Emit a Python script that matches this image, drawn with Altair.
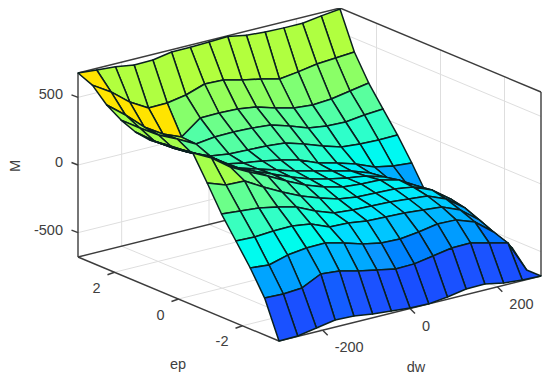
import altair as alt

W, H = 534, 366
DW_LIM, EP_LIM, M_LIM = 300.0, 3.14, 680.0
DW_TICKS = [-200, 0, 200]
EP_TICKS = [2, 0, -2]
M_TICKS = [500, 0, -500]
N = 15

# M surface, rows run from ep = -3.14 (front) to ep = 3.14 (back), columns dw = -300 .. 300
M_ROWS = [
    [-680,-677,-653,-628,-633,-652,-664,-676,-680,-664,-639,-636,-663,-675,-680],
    [-407,-411,-401,-332,-345,-378,-405,-432,-429,-405,-380,-377,-412,-446,-680],
    [-229,-241,-202,-184,-182,-216,-257,-285,-289,-272,-247,-251,-301,-409,-562],
    [ -74, -78, -69, -66, -86,-142,-146,-166,-171,-176,-188,-200,-257,-364,-517],
    [  81,  69,  57,  30,  -5, -68,-117,-129,-134,-139,-151,-163,-220,-320,-488],
    [ 266, 217, 212, 134,  62,  -2, -50, -92,-112,-117,-121,-141,-197,-298,-436],
    [ 443, 372, 271, 200, 136,  65,   1, -48, -82, -95, -99,-133,-212,-313,-414],
    [ 429, 358, 286, 185, 128,  72,  16, -33, -67, -95,-114,-155,-234,-320,-414],
    [ 421, 343, 271, 193, 106,  65,  24, -19, -53, -87,-121,-170,-249,-327,-421],
    [ 406, 328, 249, 185,  92,  65,  46,  18, -16, -73,-107,-148,-205,-231,-244],
    [ 421, 321, 234, 163, 106,  87,  83,  77,  66,  24, -25, -67, -79, -84, -81],
    [ 465, 372, 286, 222, 151, 168, 171, 166, 154, 112,  63,  44,  39,  57,  66],
    [ 532, 424, 301, 215, 158, 264, 267, 262, 243, 201, 167, 155, 165, 190, 214],
    [ 635, 550, 441, 363, 365, 390, 437, 432, 398, 371, 337, 355, 379, 389, 399],
    [ 680, 668, 658, 636, 639, 664, 665, 669, 675, 650, 640, 636, 636, 656, 673],
]
# facets whose colour value differs from their back-left vertex (row, column): the yellow band
TONE_OVERRIDES = {(13,0):700,(12,0):700,(12,1):700,(12,2):700,(12,3):700,
                  (11,0):560,(11,1):560,(11,2):560,(11,3):560,(10,0):560,(10,1):560,(10,2):560,
                  (9,0):560,(9,1):560,(9,2):560,(8,0):560,(8,1):560,(8,2):560,
                  (7,0):560,(7,1):560,(5,0):560,(5,1):560,(6,0):560,(6,1):560}
TONE_DOMAIN = [-680,-340,-310,-260,-180,-130,-60,50,150,280,400,640,690,700]
TONE_RANGE = ["#1a3cff","#1c55ff","#1070ff","#0f96ff","#00b8ff","#00e8ff","#10ffe8","#30ffc8",
              "#50ffa8","#70ff85","#90ff60","#b0ff40","#b4ff3c","#ffe400"]


def project(ep, dw, m):
    u = (dw + DW_LIM) / (2 * DW_LIM)
    v = (ep + EP_LIM) / (2 * EP_LIM)
    w = (m + M_LIM) / (2 * M_LIM)
    return (279 + 262 * u - 201 * v - 8, 341 - 65 * u - 84 * v - 184 * w - 8)


def ep_at(i):
    return -EP_LIM + 2 * EP_LIM * i / (N - 1)


def dw_at(j):
    return -DW_LIM + 2 * DW_LIM * j / (N - 1)


def seg(a, b):
    return {"x": a[0], "y": a[1], "x2": b[0], "y2": b[1]}


features = []
for i in range(N - 2, -1, -1):
    for j in range(N - 2, -1, -1):
        corners = [(i, j), (i, j + 1), (i + 1, j + 1), (i + 1, j), (i, j)]
        ring = [list(project(ep_at(a), dw_at(b), M_ROWS[a][b])) for a, b in corners]
        tone = TONE_OVERRIDES.get((i, j), M_ROWS[i + 1][j])
        features.append({"type": "Feature",
                         "geometry": {"type": "Polygon", "coordinates": [ring]},
                         "properties": {"tone": tone}})

E, D, Z = EP_LIM, DW_LIM, M_LIM
grid = []
for d in DW_TICKS:
    grid.append(seg(project(E, d, -Z), project(E, d, Z)))
    grid.append(seg(project(E, d, -Z), project(-E, d, -Z)))
for e in EP_TICKS:
    grid.append(seg(project(e, D, -Z), project(e, D, Z)))
    grid.append(seg(project(e, -D, -Z), project(e, D, -Z)))
for m in M_TICKS:
    grid.append(seg(project(E, -D, m), project(E, D, m)))
    grid.append(seg(project(E, D, m), project(-E, D, m)))

box = [
    seg(project(E, -D, -Z), project(E, -D, Z)),
    seg(project(E, -D, -Z), project(-E, -D, -Z)),
    seg(project(-E, -D, -Z), project(-E, D, -Z)),
    seg(project(E, -D, -Z), project(E, D, -Z)),
    seg(project(E, -D, Z), project(E, D, Z)),
    seg(project(E, D, Z), project(-E, D, Z)),
    seg(project(-E, D, -Z), project(-E, D, Z)),
]
for m in M_TICKS:
    p = project(E, -D, m)
    box.append(seg(p, (p[0] - 6.5, p[1] - 2.5)))
for e in EP_TICKS:
    p = project(e, -D, -Z)
    box.append(seg(p, (p[0] - 7, p[1] + 2.5)))
for d in DW_TICKS:
    p = project(-E, d, -Z)
    box.append(seg(p, (p[0] + 5, p[1] + 5)))

right_labels = []
left_labels = []
for m in M_TICKS:
    p = project(E, -D, m)
    right_labels.append({"x": p[0] - 15, "y": p[1] - 2, "t": str(m)})
for e in EP_TICKS:
    p = project(e, -D, -Z)
    right_labels.append({"x": p[0] - 14, "y": p[1] + 16.5, "t": str(e)})
for d in DW_TICKS:
    p = project(-E, d, -Z)
    left_labels.append({"x": p[0] + 12, "y": p[1] + 18, "t": str(d)})
titles = [{"x": 170, "y": 357, "t": "ep"}, {"x": 408, "y": 360, "t": "dw"}]

FONT = "Liberation Sans"
TXT = "#404040"
X = alt.X("x:Q", scale=alt.Scale(domain=[0, W]), axis=None)
Y = alt.Y("y:Q", scale=alt.Scale(domain=[0, H], reverse=True), axis=None)

grid_layer = alt.Chart(alt.Data(values=grid)).mark_rule(color="#dedede", strokeWidth=1).encode(
    x=X, y=Y, x2="x2:Q", y2="y2:Q")
box_layer = alt.Chart(alt.Data(values=box)).mark_rule(color="#3c3c3c", strokeWidth=1.4).encode(
    x=X, y=Y, x2="x2:Q", y2="y2:Q")
surface = alt.Chart(alt.Data(values=features)).mark_geoshape(
    stroke="#0a2020", strokeWidth=1.5, strokeJoin="round"
).encode(
    color=alt.Color("properties.tone:Q", legend=None,
                    scale=alt.Scale(domain=TONE_DOMAIN, range=TONE_RANGE, clamp=True))
).project(type="identity", scale=1, translate=[0, 0])
right_text = alt.Chart(alt.Data(values=right_labels)).mark_text(
    font=FONT, fontSize=14.5, color=TXT, align="right", baseline="middle"
).encode(x=X, y=Y, text="t:N")
left_text = alt.Chart(alt.Data(values=left_labels)).mark_text(
    font=FONT, fontSize=14.5, color=TXT, align="left", baseline="middle"
).encode(x=X, y=Y, text="t:N")
center_text = alt.Chart(alt.Data(values=titles)).mark_text(
    font=FONT, fontSize=14.5, color=TXT, align="center", baseline="middle"
).encode(x=X, y=Y, text="t:N")
m_title = alt.Chart(alt.Data(values=[{"x": 8, "y": 158, "t": "M"}])).mark_text(
    font=FONT, fontSize=14.5, color=TXT, align="center", baseline="middle", angle=270
).encode(x=X, y=Y, text="t:N")

chart = alt.layer(
    grid_layer, box_layer, surface, right_text, left_text, center_text, m_title
).properties(
    width=W, height=H, padding=0, autosize=alt.AutoSizeParams(type="none"), background="white"
).configure_view(stroke=None)

chart.save("out.html", embed_options={"renderer": "svg", "actions": False})
